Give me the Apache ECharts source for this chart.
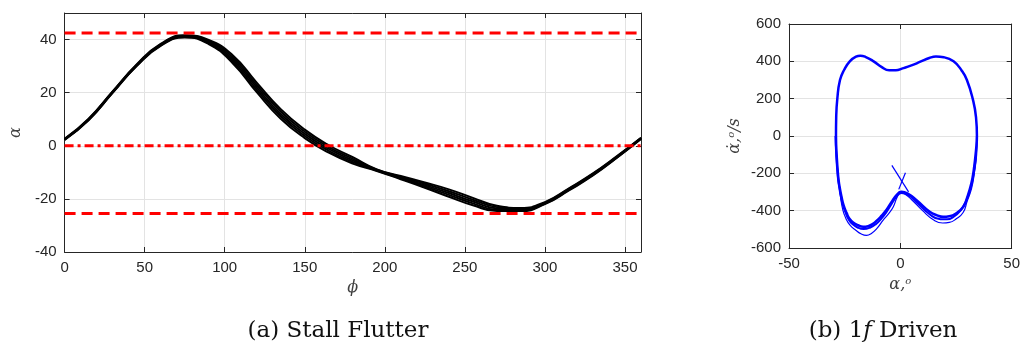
<!DOCTYPE html>
<html>
<head>
<meta charset="utf-8">
<script src="https://cdn.jsdelivr.net/npm/echarts@6/dist/echarts.min.js"></script>
<style>
  html, body { margin: 0; padding: 0; background: #fff; }
  #chart { width: 1023px; height: 348px; }
</style>
</head>
<body>
<div id="chart"></div>
<script>
// (a) stall flutter: alpha vs phi, several cycles of the limit cycle
const phi = [0, 15, 30, 45, 60, 75, 90, 105, 120, 135, 150, 165, 180, 195, 210, 225, 240, 255, 270, 285, 300, 315, 330, 345, 360]
const cycle1 = [2.6, 10.2, 20.5, 30.6, 38.4, 41.6, 39.9, 34.1, 23.8, 13.8, 6.1, 0.2, -4.3, -8.9, -11.4, -13.8, -16.4, -19.6, -22.6, -23.4, -21.2, -16.0, -10.4, -3.9, 3.0]
const cycle2 = [2.5, 10.05, 20.35, 30.45, 38.2, 41.4, 39.5, 33.35, 22.9, 12.9, 5.3, -0.5, -4.9, -9.05, -11.7, -14.3, -17.1, -20.3, -23.1, -23.7, -21.4, -16.2, -10.6, -4.05, 2.9]
const cycle3 = [2.4, 9.9, 20.2, 30.3, 38.0, 41.2, 39.1, 32.6, 22.0, 12.0, 4.5, -1.2, -5.5, -9.2, -12.0, -14.8, -17.8, -21.0, -23.6, -24.0, -21.6, -16.4, -10.8, -4.2, 2.8]
const cycle4 = [2.3, 9.75, 20.05, 30.15, 37.8, 41.0, 38.7, 31.85, 21.1, 11.1, 3.7, -1.9, -6.1, -9.35, -12.3, -15.3, -18.5, -21.7, -24.1, -24.3, -21.8, -16.6, -11.0, -4.35, 2.7]
const cycle5 = [2.2, 9.6, 19.9, 30.0, 37.6, 40.8, 38.3, 31.1, 20.2, 10.2, 2.9, -2.6, -6.7, -9.5, -12.6, -15.8, -19.2, -22.4, -24.6, -24.6, -22.0, -16.8, -11.2, -4.5, 2.6]
const alphaMax = 42.5
const alphaMin = -25.5
const alphaZero = 0

// (b) 1f driven: phase portrait [alpha, alphaDot], clockwise; the main loop
// runs a little past its start so the join is smooth
const loopMain = [
  [-28.6, -100], [-28.9, 0], [-28.8, 100], [-28.3, 200], [-27.1, 300], [-25.2, 355], [-22.7, 400], [-19.9, 425],
  [-18, 430], [-15.5, 423], [-12, 400], [-8.5, 370], [-5, 352], [-2, 352], [1, 362], [5, 378],
  [9, 398], [13, 418], [16, 426], [19.5, 422], [23.9, 400], [27.6, 350], [29.9, 300], [32.5, 200],
  [34, 100], [34.4, 0], [34, -75], [33, -180], [31.9, -254], [30, -330], [28.2, -380], [25, -415],
  [22, -430], [19.2, -433], [16.5, -425], [13.2, -406], [7.3, -344], [3.5, -310], [0.5, -299], [-1.7, -317],
  [-4, -355], [-6.2, -395], [-8.5, -428], [-10.7, -455], [-12.5, -472], [-14.5, -483], [-16.7, -486],
  [-19, -478], [-21.2, -463], [-23, -440], [-24.1, -413], [-25.5, -370], [-26.4, -326], [-27.3, -270],
  [-27.9, -218], [-28.6, -100], [-28.9, 0], [-28.8, 100]
]
const loopSecond = [
  [34.4, 0], [34.1, -100], [33, -200], [31.6, -280], [29.5, -350], [27, -400], [24, -432], [21, -446],
  [18, -446], [13, -418], [7, -352], [3.5, -316], [0.5, -306], [-1.7, -325], [-4, -365], [-6.2, -407],
  [-8.5, -442], [-11, -472], [-13.5, -490], [-16.5, -498], [-19.2, -490], [-21.5, -472], [-23.3, -445],
  [-24.5, -413], [-25.8, -370], [-26.7, -326], [-27.5, -270], [-28.1, -218], [-28.8, -100], [-29.1, 0]
]
const loopOuter = [
  [34.2, -100], [33.2, -200], [32, -280], [30, -350], [28.2, -410], [25, -445], [22, -463], [19, -466],
  [15, -450], [10, -400], [5, -340], [2, -310], [0, -303], [-1.5, -330], [-3.2, -380], [-5.5, -420],
  [-7.7, -451], [-10.5, -495], [-13, -522], [-15.2, -532], [-17.5, -525], [-20, -505], [-22.6, -478],
  [-24.5, -440], [-25.8, -397], [-26.8, -330], [-27.8, -220], [-28.6, -100]
]
const transientA = [[-3.8, -157], [3.7, -299]]
const transientB = [[2.3, -197], [-0.7, -286]]

const AX = '#262626'
const GRIDLINE = '#e3e3e3'

function axis(gridIndex, position, min, max, interval, main) {
  return {
    type: 'value',
    gridIndex,
    position,
    min,
    max,
    interval,
    axisLine: { show: true, onZero: false, lineStyle: { color: AX, width: 1 } },
    axisTick: { show: true, inside: true, length: 5, lineStyle: { color: AX } },
    axisLabel: {
      show: main,
      color: AX,
      fontFamily: 'Liberation Sans, Arial, sans-serif',
      fontSize: 15,
      margin: 8,
    },
    splitLine: { show: main, lineStyle: { color: GRIDLINE, width: 1 } },
  }
}

const nameStyle = {
  color: '#404040',
  fontFamily: 'DejaVu Serif, serif',
  fontStyle: 'italic',
  fontSize: 16,
  rich: {
    i: { fontFamily: 'DejaVu Serif, serif', fontStyle: 'italic', fontSize: 16, color: '#404040' },
    s: { fontFamily: 'DejaVu Serif, serif', fontStyle: 'italic', fontSize: 10, color: '#404040', verticalAlign: 'top', padding: [0, 0, 8, 0] },
  },
}

const xAxes = [
  Object.assign(axis(0, 'bottom', 0, 360, 50, true), { name: 'ϕ', nameLocation: 'middle', nameGap: 28, nameTextStyle: nameStyle }),
  axis(0, 'top', 0, 360, 50, false),
  Object.assign(axis(1, 'bottom', -50, 50, 50, true), { name: '{i|α,}{s|o}', nameLocation: 'middle', nameGap: 28, nameTextStyle: nameStyle }),
  axis(1, 'top', -50, 50, 50, false),
]
const yAxes = [
  Object.assign(axis(0, 'left', -40, 50, 20, true), { name: 'α', nameLocation: 'middle', nameGap: 40, nameTextStyle: nameStyle }),
  axis(0, 'right', -40, 50, 20, false),
  Object.assign(axis(1, 'left', -600, 600, 200, true), { name: '{i|α̇,}{s|o}{i|/s}', nameLocation: 'middle', nameGap: 45, nameTextStyle: nameStyle }),
  axis(1, 'right', -600, 600, 200, false),
]
// frame edge at 50 has no label in the original
yAxes[0].axisLabel.showMaxLabel = false

function curve(values) {
  return {
    type: 'line',
    xAxisIndex: 0,
    yAxisIndex: 0,
    data: phi.map((p, i) => [p, values[i]]),
    smooth: true,
    symbol: 'none',
    lineStyle: { color: '#000', width: 2 },
    z: 2,
  }
}

function hline(value, dash) {
  return {
    type: 'line',
    xAxisIndex: 0,
    yAxisIndex: 0,
    data: [[0, value], [360, value]],
    symbol: 'none',
    lineStyle: { color: '#ff0000', width: 3, type: dash },
    z: 3,
  }
}

function loop(points, width) {
  return {
    type: 'line',
    xAxisIndex: 2,
    yAxisIndex: 2,
    data: points,
    smooth: true,
    symbol: 'none',
    lineStyle: { color: '#0000ff', width },
    z: 2,
  }
}

const chart = echarts.init(document.getElementById('chart'), null, { renderer: 'canvas' })

const captionFont = { fontFamily: 'DejaVu Serif, serif', fontSize: 23, fill: '#111' }

chart.setOption({
  animation: false,
  grid: [
    { left: 61, top: 13, width: 580, height: 239 },
    { left: 789, top: 24, width: 223, height: 224 },
  ],
  xAxis: xAxes,
  yAxis: yAxes,
  series: [
    curve(cycle1),
    curve(cycle2),
    curve(cycle3),
    curve(cycle4),
    curve(cycle5),
    hline(alphaMax, [11, 6]),
    hline(alphaMin, [11, 6]),
    hline(alphaZero, [9, 4, 3, 4]),
    loop(loopMain, 2.5),
    loop(loopSecond, 2),
    loop(loopOuter, 1.2),
    loop(transientA, 1.2),
    loop(transientB, 1.2),
  ],
  graphic: [
    {
      type: 'text',
      x: 338, y: 331,
      style: Object.assign({ text: '(a) Stall Flutter', align: 'center', verticalAlign: 'middle' }, captionFont),
    },
    {
      type: 'text',
      x: 883, y: 331,
      style: Object.assign({
        text: '(b) 1{f|f} Driven',
        align: 'center',
        verticalAlign: 'middle',
        rich: { f: Object.assign({ fontStyle: 'italic' }, captionFont) },
      }, captionFont),
    },
  ],
})
</script>
</body>
</html>
